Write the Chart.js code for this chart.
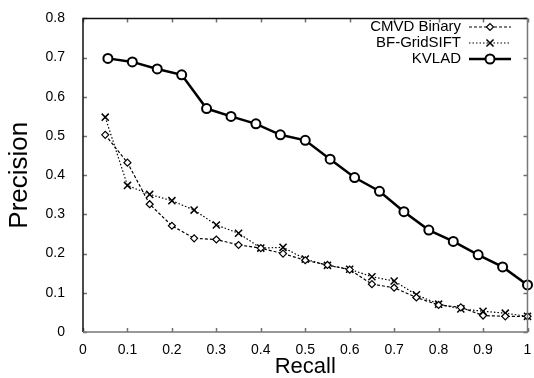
<!DOCTYPE html>
<html>
<head>
<meta charset="utf-8">
<script src="https://cdn.jsdelivr.net/npm/chart.js@4"></script>
<style>
  html, body { margin: 0; padding: 0; background: #fff; }
  #wrap { width: 534px; height: 378px; }
</style>
</head>
<body>
<div id="wrap"><canvas id="pr-chart" width="534" height="378"></canvas></div>
<script>
// recall positions
var recallSteps = [0.05, 0.1, 0.15, 0.2, 0.25, 0.3, 0.35, 0.4, 0.45, 0.5,
                   0.55, 0.6, 0.65, 0.7, 0.75, 0.8, 0.85, 0.9, 0.95, 1.0];
var kvladRecall = [0.056, 0.111, 0.167, 0.222, 0.278, 0.333, 0.389, 0.444, 0.5,
                   0.556, 0.611, 0.667, 0.722, 0.778, 0.833, 0.889, 0.944, 1.0];

// precision values
var cmvdBinary = [0.503, 0.432, 0.326, 0.271, 0.239, 0.236, 0.222, 0.214, 0.200, 0.183,
                  0.171, 0.159, 0.122, 0.113, 0.088, 0.069, 0.063, 0.042, 0.040, 0.040];
var bfGridSift = [0.548, 0.374, 0.351, 0.335, 0.311, 0.273, 0.252, 0.214, 0.216, 0.186,
                  0.170, 0.160, 0.141, 0.130, 0.095, 0.071, 0.059, 0.053, 0.048, 0.040];
var kvlad = [0.698, 0.689, 0.671, 0.656, 0.570, 0.550, 0.531, 0.503, 0.489,
             0.441, 0.394, 0.359, 0.307, 0.260, 0.231, 0.197, 0.166, 0.120];

var seriesNames = ["CMVD Binary", "BF-GridSIFT", "KVLAD"];

var FONT = "'Liberation Sans', Arial, Helvetica, sans-serif";

function pairs(xs, ys) {
    return ys.map(function (y, i) { return { x: xs[i], y: y }; });
}

function tickText(value) {
    return String(Number(value.toFixed(1)));
}

// gnuplot-like frame with inward ticks on all four sides, plus the legend
var framePlugin = {
    id: "frame",
    afterDraw: function (chart) {
        var ctx = chart.ctx;
        var a = chart.chartArea;
        var xs = chart.scales.x, ys = chart.scales.y;
        var t = 4;
        ctx.save();
        ctx.lineWidth = 1.5;
        // ticks
        ctx.strokeStyle = "#707070";
        ctx.beginPath();
        xs.ticks.forEach(function (tk) {
            var px = Math.round(xs.getPixelForValue(tk.value)) + 0.5;
            ctx.moveTo(px, a.bottom); ctx.lineTo(px, a.bottom - t);
            ctx.moveTo(px, a.top); ctx.lineTo(px, a.top + t);
        });
        ys.ticks.forEach(function (tk) {
            var py = Math.round(ys.getPixelForValue(tk.value)) + 0.5;
            ctx.moveTo(a.left, py); ctx.lineTo(a.left + t, py);
            ctx.moveTo(a.right, py); ctx.lineTo(a.right - t, py);
        });
        ctx.stroke();
        // frame
        ctx.strokeStyle = "#111";
        ctx.beginPath();
        ctx.moveTo(a.left, a.bottom); ctx.lineTo(a.left, a.top); ctx.lineTo(a.right, a.top);
        ctx.stroke();
        ctx.strokeStyle = "#777";
        ctx.beginPath();
        ctx.moveTo(a.left, a.bottom); ctx.lineTo(a.right, a.bottom); ctx.lineTo(a.right, a.top);
        ctx.stroke();

        // legend, text right aligned then line sample
        var rows = [27, 43, 59];
        chart.data.datasets.forEach(function (ds, i) {
            var y = rows[i];
            ctx.font = "15px " + FONT;
            ctx.fillStyle = "#000";
            ctx.textAlign = "right";
            ctx.textBaseline = "middle";
            ctx.fillText(ds.label, 461, y);
            ctx.setLineDash(ds.borderDash || []);
            ctx.strokeStyle = ds.borderColor;
            ctx.lineWidth = ds.borderWidth;
            ctx.beginPath();
            ctx.moveTo(469, y); ctx.lineTo(511, y);
            ctx.stroke();
            ctx.setLineDash([]);
            ctx.fillStyle = ds.pointBackgroundColor;
            ctx.strokeStyle = ds.pointBorderColor;
            ctx.lineWidth = ds.pointBorderWidth;
            Chart.helpers.drawPoint(ctx, {
                pointStyle: ds.pointStyle,
                radius: ds.pointRadius,
                borderWidth: ds.pointBorderWidth,
                rotation: 0
            }, 490, y);
        });
        ctx.restore();
    }
};

var prChart = new Chart(document.getElementById("pr-chart"), {
    type: "line",
    data: {
        datasets: [
            {
                label: seriesNames[0],
                data: pairs(recallSteps, cmvdBinary),
                borderColor: "#000",
                borderWidth: 1.2,
                borderDash: [3, 2],
                pointStyle: "rectRot",
                pointRadius: 3.5,
                pointBorderWidth: 1.2,
                pointBackgroundColor: "#fff",
                pointBorderColor: "#000",
                tension: 0,
            },
            {
                label: seriesNames[1],
                data: pairs(recallSteps, bfGridSift),
                borderColor: "#000",
                borderWidth: 1.2,
                borderDash: [1.5, 2],
                pointStyle: "crossRot",
                pointRadius: 5,
                pointBorderWidth: 1.5,
                pointBackgroundColor: "#000",
                pointBorderColor: "#000",
                tension: 0,
            },
            {
                label: seriesNames[2],
                data: pairs(kvladRecall, kvlad),
                borderColor: "#000",
                borderWidth: 2.5,
                pointStyle: "circle",
                pointRadius: 4.5,
                pointBorderWidth: 2,
                pointBackgroundColor: "#fff",
                pointBorderColor: "#000",
                tension: 0,
            },
        ],
    },
    options: {
        responsive: false,
        animation: false,
        clip: false,
        layout: { padding: { top: 14, right: 5, left: 0, bottom: 0 } },
        plugins: {
            legend: { display: false },
            tooltip: { enabled: false },
        },
        scales: {
            x: {
                type: "linear",
                min: 0,
                max: 1,
                grid: { display: false },
                border: { display: false },
                afterFit: function (scale) { scale.height = 46; },
                title: {
                    display: true,
                    text: "Recall",
                    color: "#000",
                    padding: { top: -3, bottom: 0 },
                    font: { size: 22, family: FONT, lineHeight: 1 },
                },
                ticks: {
                    stepSize: 0.1,
                    padding: 2,
                    color: "#000",
                    maxRotation: 0,
                    callback: tickText,
                    font: { size: 14, family: FONT },
                },
            },
            y: {
                min: 0,
                max: 0.8,
                grid: { display: false },
                border: { display: false },
                afterFit: function (scale) { scale.width = 83; },
                title: {
                    display: true,
                    text: "Precision",
                    color: "#000",
                    padding: { top: 7, bottom: 0 },
                    font: { size: 26, family: FONT, lineHeight: 1 },
                },
                ticks: {
                    stepSize: 0.1,
                    padding: 10,
                    color: "#000",
                    callback: tickText,
                    font: { size: 14, family: FONT },
                },
            },
        },
    },
    plugins: [framePlugin],
});
</script>
</body>
</html>
